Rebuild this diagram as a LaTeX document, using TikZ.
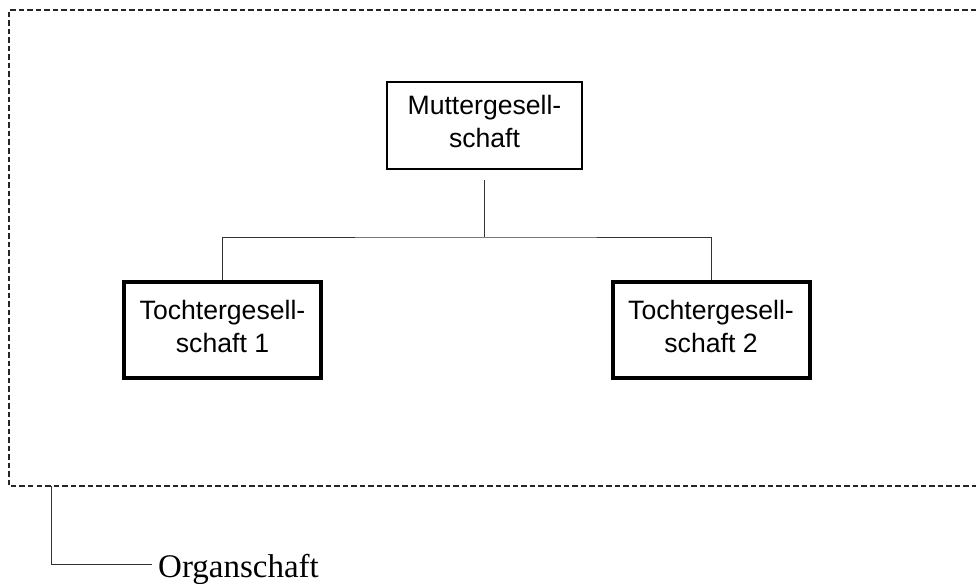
\documentclass[tikz,border=0pt]{standalone}
\usepackage{fontspec}
\setmainfont{Liberation Serif}
\setsansfont{Liberation Sans}
\usetikzlibrary{positioning}

\begin{document}
\begin{tikzpicture}[x=1pt,y=-1pt,
  company/.style={draw,rectangle,align=center,inner sep=0pt,text depth=8pt,
    minimum width=195pt,minimum height=87pt,line width=1.3pt,
    font=\sffamily\fontsize{26.6}{33}\selectfont},
  subsidiary/.style={company,minimum width=197pt,minimum height=96pt,line width=4pt},
  link/.style={line width=1pt,draw=black!80},
  group/.style={dash pattern=on 5.5pt off 3pt,line width=1.2pt,draw=black!85}]
  \useasboundingbox (0,0) rectangle (976,583);
   \node[company] (mutter) at (484.5,125.5) {Muttergesell-\\schaft};
   \node[subsidiary] (t_1) at (222.5,330) {Tochtergesell-\\schaft 1};
   \node[subsidiary] (t_2) at (711,330) {Tochtergesell-\\schaft 2};
   \coordinate (bar) at (484.5,237);
   % Konzernverbindung
   \draw[link,shorten <=10pt] (mutter.south) -- (bar);
   \draw[link] (t_1.north) |- (bar) -| (t_2.north);
   % Organkreis
   \coordinate (g_tr) at (976,10);
   \coordinate (g_br) at (976,486);
   \draw[group] (g_tr) -- (9,10) -- (9,486) -- (g_br);
   \coordinate (orgtop) at (51,486);
   \node[anchor=west,inner sep=0pt,font=\fontsize{33}{38}\selectfont] (org) at (158,569) {Organschaft};
   \draw[link] (orgtop) |- ([xshift=-6pt,yshift=5pt]org.west);
\end{tikzpicture}
\end{document}
